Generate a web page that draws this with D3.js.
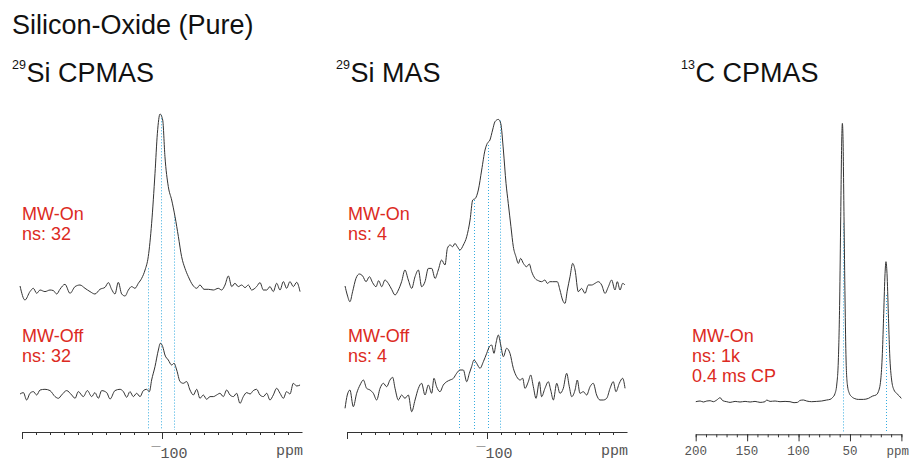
<!DOCTYPE html>
<html>
<head>
<meta charset="utf-8">
<script src="https://cdn.jsdelivr.net/npm/d3@7/dist/d3.min.js"></script>
<style>
body { margin: 0; background: #fff; }
</style>
</head>
<body>
<div id="chart"></div>
<script>
// spectra: [ppm, intensity (a.u.)]
var siCpOn = [[1.4,3.3],[-2.1,-10.7],[-5.7,-2.3],[-8.1,1],[-10.5,-4],[-12.9,-0.7],[-16.4,-2.3],[-20,-0.7],[-22.4,-1.3],[-24.8,-4.7],[-27.1,0],[-30.7,5],[-34.3,-4],[-37.9,2.7],[-41.4,4.3],[-45,1],[-48.6,-2.3],[-52.1,-4.7],[-55.7,0],[-59.3,2],[-61.7,6.7],[-64,0],[-66.4,-4.7],[-68.8,7],[-71.2,-4.7],[-73.6,-6.7],[-76,-0.7],[-78.3,2.7],[-80.7,1],[-83.1,6],[-85.5,11],[-87.9,19.3],[-90.2,32.7],[-92.6,66],[-95,116],[-96.7,156],[-98.6,175.3],[-100.5,169.3],[-102.1,132.7],[-104.5,102.7],[-106.9,89.3],[-109.3,72.7],[-111.7,52.7],[-114,32.7],[-116.4,21],[-118.8,12.7],[-121.9,4.3],[-124.8,1],[-127.1,4.3],[-130,0],[-133.1,0],[-136.7,-0.7],[-140.2,1],[-142.6,-0.7],[-145,4.3],[-147.4,13.3],[-149.8,2.7],[-152.1,6],[-154.5,2.7],[-156.9,4.3],[-159.3,1.7],[-161.7,4.3],[-164,-0.7],[-167.6,2.7],[-170,6.7],[-172.4,-0.7],[-174.8,-0.7],[-177.1,2.7],[-179.5,-2.3],[-181.9,6],[-184.3,-0.7],[-186.7,7.7],[-189,1],[-191.4,7.7],[-193.8,2.7],[-196.2,7],[-198.6,-2.3]];
var siCpOff = [[1.4,0.3],[-1,1.7],[-3.3,-5.7],[-5.7,1],[-8.1,2.7],[-10.5,-0.7],[-12.9,4.3],[-16.4,5],[-20,3.7],[-23.6,-2.3],[-26,-4],[-28.3,-0.7],[-31.9,3.7],[-35.5,-0.7],[-37.9,-4],[-40.2,2.7],[-43.8,-2.3],[-46.7,3.7],[-49.8,-2.3],[-52.1,1.7],[-54.5,-4],[-56.9,3.7],[-60.5,1.7],[-62.9,-4.7],[-66.4,3.7],[-70,5],[-72.4,2.7],[-74.8,-3],[-77.1,2.7],[-79.5,-2.3],[-81.9,1],[-84.3,-2.3],[-86.7,3.7],[-89,5],[-91,2.7],[-92.6,14.3],[-95,27.7],[-97.4,44.3],[-98.8,51],[-100.5,47.7],[-102.1,39.3],[-104.5,34.3],[-106.9,29.3],[-108.6,31],[-110.5,24.3],[-112.9,12.7],[-115.2,11],[-117.6,12.7],[-120,4.3],[-122.4,-0.7],[-124.8,5],[-127.1,-4],[-129.5,-0.7],[-131.9,-5],[-134.3,-2.3],[-136.7,-2.3],[-139,-0.7],[-141.4,1],[-143.8,-2.3],[-146.2,4.3],[-148.6,-0.7],[-151,-2.3],[-153.3,1],[-155.7,-9],[-158.1,-2.3],[-160.5,1.7],[-162.9,0.3],[-165.2,3.7],[-167.6,5],[-170,-0.7],[-172.4,-2.3],[-174.8,1],[-177.1,-5.7],[-179.5,-0.7],[-181.9,6],[-184.3,1],[-186.7,-4],[-189,2.7],[-191.4,0.3],[-193.8,11],[-196.2,8.3],[-198.6,9.3]];
var siMasOn = [[1.4,0.7],[-0.2,-8.3],[-2.1,-15],[-4,-5],[-6.4,8.3],[-8.8,12.7],[-11.2,10.7],[-13.6,5],[-16,10],[-18.3,4],[-20.7,0],[-22.6,6],[-24.8,0],[-27.1,6.7],[-29.5,3.3],[-31.9,-2.7],[-34.3,-8.3],[-36.7,-3.3],[-39,5],[-41.4,16.7],[-43.8,6.7],[-46.2,-1.7],[-48.6,10],[-51,16.7],[-53.3,0],[-55.7,5],[-58.1,18.3],[-60.5,18.3],[-62.9,8.3],[-65.2,16.7],[-67.6,26.7],[-70,21.7],[-71.7,38.3],[-73.6,41.7],[-75.5,40],[-77.1,43.3],[-78.8,40],[-80.7,36.7],[-83.1,41.7],[-85.5,50],[-87.9,66.7],[-89.8,86.7],[-91.7,88.3],[-93.8,96.7],[-96.2,116.7],[-98.6,136.7],[-100.2,143.3],[-102.1,146.7],[-104,156.7],[-105.7,165],[-108.1,167.3],[-109.8,163.3],[-111.7,136.7],[-113.6,103.3],[-115.2,83.3],[-117.1,60],[-118.8,40],[-120.7,30],[-122.4,23.3],[-124,28.3],[-126,23.3],[-128.3,20],[-130.2,22.7],[-131.9,15],[-134.3,8.3],[-136.7,6],[-139,5],[-141.4,6.7],[-143.1,3.3],[-145,5],[-146.9,5],[-148.6,5],[-150.2,5],[-152.1,-3.3],[-154,-13.3],[-155.7,-16.7],[-157.4,-3.3],[-159.3,10],[-161.2,23.3],[-162.9,16.7],[-165.2,-5],[-167.6,-1.7],[-170,-6.7],[-172.4,1.7],[-174.8,1.7],[-177.1,3.3],[-179.5,5],[-181.9,1.7],[-184.3,-6.7],[-186.7,0],[-189,6.7],[-191.4,-3.3],[-193.1,5],[-195,-3.3],[-196.9,3.3],[-198.6,1.7]];
var siMasOff = [[1.4,-13.3],[-0.2,0],[-2.1,5],[-4.5,-11.7],[-6.9,1.7],[-9.3,10],[-11.7,15],[-14,6.7],[-16.4,5],[-18.8,1.7],[-21.2,-5],[-23.6,6.7],[-26,11.7],[-28.3,8.3],[-30.7,15],[-32.6,17.7],[-34.3,6.7],[-36.7,-5],[-39,0],[-41.4,-3.3],[-43.8,0],[-46.2,-16.7],[-48.6,-5],[-51,6.7],[-53.3,11.7],[-55.7,0],[-58.1,10],[-60.5,1.7],[-62.1,16.7],[-64,8.3],[-66.4,3.3],[-68.8,10],[-71.2,13.3],[-73.6,15],[-76,16.7],[-78.3,21.7],[-80.7,25],[-83.1,25],[-85.5,13.3],[-87.4,21.7],[-89,28.3],[-90.7,35],[-92.6,31.7],[-95,26.7],[-97.4,33.3],[-99.8,41.7],[-101.7,48.3],[-103.3,50],[-105,41.7],[-106.4,51.7],[-108.1,60],[-109.8,50],[-111.7,38.3],[-114,46.7],[-116.4,41.7],[-118.8,26.7],[-121.2,18.3],[-123.6,15],[-125.5,16.7],[-127.1,6.7],[-129.5,13.3],[-131.2,20],[-133.1,8.3],[-135,-3.3],[-137.4,13.3],[-139,-1.7],[-141.4,6.7],[-143.8,13.3],[-145.5,5],[-147.4,-5],[-149.8,11.7],[-152.1,1.7],[-154.5,6.7],[-156.9,21.7],[-158.8,8.3],[-160.5,-1.7],[-162.9,5],[-164.5,15],[-166.4,1.7],[-168.8,3.3],[-171.2,0],[-173.6,8.3],[-175.9,11.7],[-178.3,0],[-180.7,-5],[-183.1,-5],[-185.5,-3.3],[-187.9,6.7],[-190.2,13.3],[-192.1,3.3],[-194.5,11.7],[-196.9,16.7],[-198.6,6.7]];
var cCpOn = [[199.9,0],[195.7,0.7],[192.5,-0.3],[189.2,0.7],[186,1],[182.8,0],[179.5,1.7],[176.3,4],[173.7,1],[169.8,0],[166.6,-0.7],[161.7,0.3],[156.9,-0.3],[152,0.3],[147.1,-0.3],[142.3,0.3],[137.4,-0.7],[132.6,0],[130.9,1.7],[127.7,0.3],[122.8,0.7],[118,0],[113.1,0.3],[108.3,0],[104.4,-1],[101.1,-0.7],[98.5,1.3],[95.3,1.7],[92.1,0.7],[87.2,0],[82.3,0.3],[77.5,0.7],[72.6,1.7],[69.4,2.3],[66.8,4.3],[64.5,8.3],[62.9,16.7],[61.3,41.7],[60,101.7],[59,185],[58,261.7],[57.4,278.3],[56.8,265],[55.8,185],[54.8,101.7],[53.8,41.7],[52.5,16.7],[50.6,8.3],[48.3,5],[45.1,3],[41.9,2.3],[37,2.3],[32.1,3.3],[27.9,5.7],[24.7,6.7],[22.4,10],[20.1,21.7],[18.5,48.3],[17.2,88.3],[15.9,128.3],[15,140],[14,128.3],[12.7,88.3],[11.4,48.3],[9.5,21.7],[7.2,11.7],[4.6,8.3],[2,5.7],[0.1,3.3]];

// guide lines: [ppm, top intensity on the MW-On trace]
var siCpGuides = [[-90, 21], [-99.3, 174], [-108.5, 72.7]];
var siMasGuides = [[-79.7, 36.7], [-90.4, 86.7], [-100.4, 141.7], [-109, 166]];
var cGuides = [[57, 178.3], [14.6, 106.7]];

// axis ticks
var siMajor = [0, -100];
var siLabels = [-100];
var cMajor = [200, 150, 100, 50, 0];
var cLabels = [200, 150, 100, 50];

var isotopes = ["29", "29", "13"];
var nuclei = ["Si CPMAS", "Si MAS", "C CPMAS"];
var labelsOn = [["MW-On", "ns: 32"], ["MW-On", "ns: 4"], ["MW-On", "ns: 1k", "0.4 ms CP"]];
var labelsOff = [["MW-Off", "ns: 32"], ["MW-Off", "ns: 4"]];

var W = 909, H = 471;
var red = "#dc2a22", blue = "#35ace0", ink = "#333";
var mono = "'Liberation Mono', 'Courier New', monospace";

var svg = d3.select("#chart").append("svg")
  .attr("width", W)
  .attr("height", H)
  .style("font-family", "'Liberation Sans', Arial, sans-serif");

svg.append("text")
  .attr("x", 12).attr("y", 34)
  .attr("font-size", 27).attr("fill", "#111")
  .text("Silicon-Oxide (Pure)");

var panels = [
  { x0: 22, x1: 302, dom: [0, -200], axisY: 432, on: siCpOn, off: siCpOff, onBase: 289.3, offBase: 394.3,
    guides: siCpGuides, major: siMajor, labels: siLabels, minor: d3.range(0, -200, -10), mono: 15,
    titleX: 12, labX: 22, onY: 220, offY: 342 },
  { x0: 347, x1: 627, dom: [0, -200], axisY: 432, on: siMasOn, off: siMasOff, onBase: 286.7, offBase: 395,
    guides: siMasGuides, major: siMajor, labels: siLabels, minor: d3.range(0, -200, -10), mono: 15,
    titleX: 336, labX: 348, onY: 220, offY: 342 },
  { x0: 695.7, x1: 901.4, dom: [200, 0], axisY: 434.3, on: cCpOn, off: null, onBase: 401.7,
    guides: cGuides, major: cMajor, labels: cLabels, minor: d3.range(200, -1, -10), mono: 12.5,
    titleX: 681, labX: 692, onY: 342 }
];

panels.forEach(function (p, i) {
  var x = d3.scaleLinear().domain(p.dom).range([p.x0, p.x1]);
  var g = svg.append("g");

  // title with isotope superscript
  var t = g.append("text").attr("x", p.titleX).attr("y", 82).attr("fill", "#111");
  t.append("tspan").attr("font-size", 12.5).attr("dy", -13).text(isotopes[i]);
  t.append("tspan").attr("font-size", 27).attr("dy", 13).attr("dx", 0.5).text(nuclei[i]);

  function yScale(base) {
    return d3.scaleLinear().domain([0, 100]).range([base, base - 100]);
  }
  var yOn = yScale(p.onBase);

  // dotted guides from the peaks down to the axis (snapped to the pixel grid)
  function gx(d) { return Math.round(x(d[0])) + 0.5; }
  g.selectAll(".guide").data(p.guides).enter().append("line")
    .attr("x1", gx)
    .attr("x2", gx)
    .attr("y1", function (d) { return yOn(d[1]); })
    .attr("y2", p.axisY - 2)
    .attr("stroke", blue)
    .attr("stroke-width", 1)
    .attr("stroke-dasharray", "1,2");

  function trace(data, ys) {
    var line = d3.line()
      .x(function (d) { return x(d[0]); })
      .y(function (d) { return ys(d[1]); })
      .curve(d3.curveMonotoneX);
    g.append("path").datum(data)
      .attr("d", line)
      .attr("fill", "none")
      .attr("stroke", ink)
      .attr("stroke-width", 1);
  }
  trace(p.on, yOn);
  if (p.off) trace(p.off, yScale(p.offBase));

  // red annotations
  function note(lines, y0) {
    lines.forEach(function (s, k) {
      g.append("text").attr("x", p.labX).attr("y", y0 + k * 20)
        .attr("font-size", 18).attr("fill", red).text(s);
    });
  }
  note(labelsOn[i], p.onY);
  if (p.off) note(labelsOff[i], p.offY);

  // axis: minor ticks, then major ticks
  var ax = g.append("g").attr("transform", "translate(0," + p.axisY + ")");
  ax.call(d3.axisBottom(x).tickValues(p.minor).tickSize(3).tickSizeOuter(0).tickFormat(""));
  var axMajor = g.append("g").attr("transform", "translate(0," + p.axisY + ")");
  axMajor.call(d3.axisBottom(x).tickValues(p.major).tickSize(7).tickSizeOuter(0).tickFormat(""));
  axMajor.select(".domain").remove();
  g.selectAll(".domain, .tick line").attr("stroke", ink);

  g.selectAll(".tlab").data(p.labels).enter().append("text")
    .attr("x", function (d) { return d < 0 ? x(d) - 10.5 : x(d); })
    .attr("y", p.axisY + (i < 2 ? 26 : 21))
    .attr("text-anchor", function (d) { return d < 0 ? "start" : "middle"; })
    .attr("font-family", mono)
    .attr("font-size", p.mono)
    .attr("fill", "#555")
    .text(function (d) { return d < 0 ? "\u00AF" + Math.abs(d) : d; });

  g.append("text")
    .attr("x", i < 2 ? p.x1 + 1 : W)
    .attr("y", p.axisY + (i < 2 ? 23 : 21))
    .attr("text-anchor", "end")
    .attr("font-family", mono)
    .attr("font-size", p.mono)
    .attr("fill", "#555")
    .text("ppm");
});
</script>
</body>
</html>
